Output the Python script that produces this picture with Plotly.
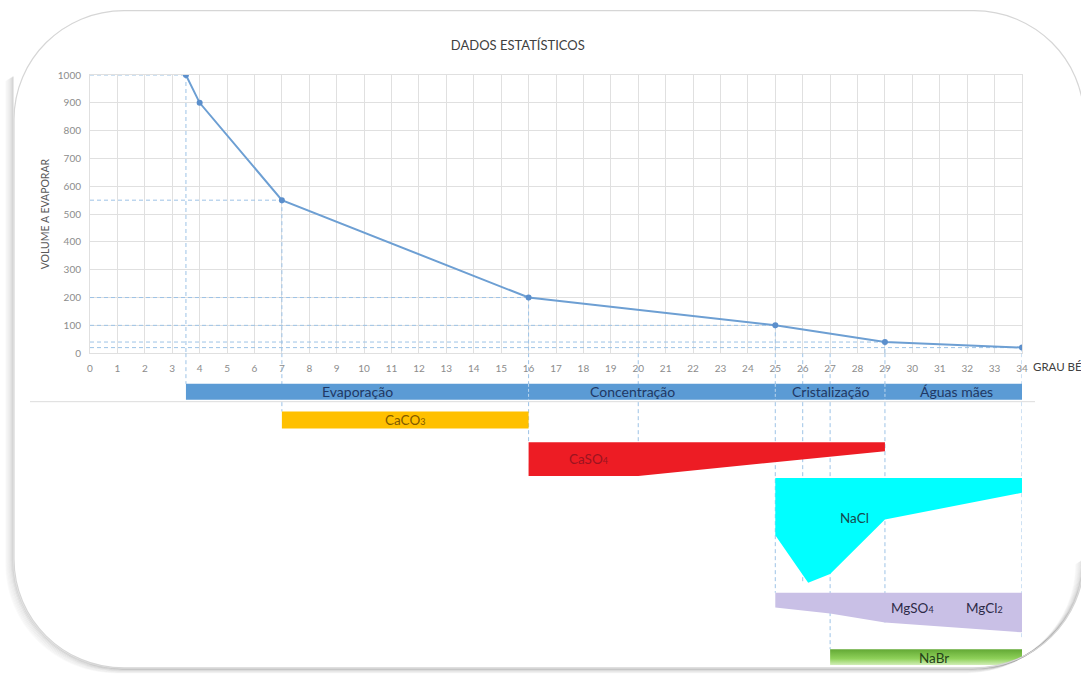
import plotly.graph_objects as go

# ---------------- data ----------------
grau = [3.5, 4, 7, 16, 25, 29, 34]
volume = [1000, 900, 550, 200, 100, 40, 20]

# horizontal guide lines: (x of point, y value)
guias_h_x = [3.5, 7, 16, 25, 29, 34]
guias_h_y = [1000, 550, 200, 100, 40, 20]

# vertical guide lines: x, start value on main axis, end depth in lower panel
guias_v_x = [3.5, 7, 16, 20, 25, 26, 27, 29, 34]
guias_v_top = [1000, 550, 200, 0, 100, 0, 0, 40, 20]
guias_v_fim = [31, 59, 90, 124, 242, 232, 299, 272, 290]

# process phases
fases = ["Evaporação", "Concentração", "Cristalização", "Águas mães"]
fases_lim = [3.5, 16, 25, 29, 34]
fases_lbl_x = [9.75, 19.8, 27.0, 31.6]
faixa_fases = [31, 47]  # depth of the band in the lower panel

# precipitated salts (lower panel, depth units)
caco3_x = [7, 16, 16, 7]
caco3_d = [59, 59, 76, 76]
caso4_x = [16, 29, 29, 20, 16]
caso4_d = [90, 90, 99, 124, 124]
nacl_x = [25, 34, 34, 29, 27, 26.2, 25]
nacl_d = [126, 126, 141, 168, 223, 232, 184]
mg_x = [25, 34, 34, 29, 27, 25]
mg_d = [242, 242, 282, 272, 263, 257]
nabr_x = [27, 34, 34, 27]
nabr_d = [299, 299, 315, 315]

SUB = "<span style='font-size:9px'>{}</span>"
sais_lbl = ["CaCO" + SUB.format("3"), "CaSO" + SUB.format("4"), "NaCl",
            "MgSO" + SUB.format("4"), "MgCl" + SUB.format("2"), "NaBr"]
sais_lbl_x = [11.5, 18.17, 27.9, 30.0, 32.65, 30.8]
sais_lbl_d = [67.5, 107, 166, 257, 257, 308]
sais_lbl_cor = ["#7f5a00", "#9b1420", "#17494d", "#2e2b48", "#2e2b48", "#24421a"]

# ---------------- geometry helpers ----------------
W, H = 1081, 675
ML, MR, MT, MB = 90, 59, 75, 4
PW, PH = W - ML - MR, H - MT - MB


def px2x(p):
    return (p - ML) / PW


def py2y(p):
    return (H - MB - p) / PH


Y_SPLIT = py2y(356)
FONT = "Lato, 'Open Sans', sans-serif"
GUIDE = dict(color="#9dc3e6", width=1, dash="4px,3px")

fig = go.Figure()

# main line
fig.add_trace(go.Scatter(
    x=grau, y=volume, mode="lines+markers",
    line=dict(color="#6d9fd3", width=2),
    marker=dict(color="#5b8fcc", size=6),
    xaxis="x", yaxis="y", showlegend=False, hoverinfo="x+y"))

# phase band
fig.add_trace(go.Scatter(
    x=[fases_lim[0], fases_lim[-1], fases_lim[-1], fases_lim[0]],
    y=[faixa_fases[0], faixa_fases[0], faixa_fases[1], faixa_fases[1]],
    fill="toself", fillcolor="#5b9bd5", line=dict(width=0), mode="lines",
    xaxis="x2", yaxis="y2", showlegend=False, hoverinfo="skip"))

for xs, ds, cor in [(caco3_x, caco3_d, "#ffc000"),
                    (caso4_x, caso4_d, "#ed1c24"),
                    (nacl_x, nacl_d, "#00ffff"),
                    (mg_x, mg_d, "#c9c0e6")]:
    fig.add_trace(go.Scatter(
        x=xs + [xs[0]], y=ds + [ds[0]], fill="toself", fillcolor=cor,
        line=dict(width=0), mode="lines", xaxis="x2", yaxis="y2",
        showlegend=False, hoverinfo="skip"))

fig.add_trace(go.Scatter(
    x=nabr_x + [nabr_x[0]], y=nabr_d + [nabr_d[0]], fill="toself",
    fillgradient=dict(type="vertical",
                      colorscale=[[0, "#d2eeb8"], [0.4, "#8fd15a"], [1, "#62a834"]]),
    line=dict(width=0), mode="lines", xaxis="x2", yaxis="y2",
    showlegend=False, hoverinfo="skip"))

shapes = []
# horizontal guides
for gx, gy in zip(guias_h_x, guias_h_y):
    shapes.append(dict(type="line", xref="x", yref="y", x0=0, x1=gx, y0=gy, y1=gy,
                       line=GUIDE, layer="between"))
# vertical guides
for gx, gt, gf in zip(guias_v_x, guias_v_top, guias_v_fim):
    if gt > 0:
        shapes.append(dict(type="line", xref="x", yref="y", x0=gx, x1=gx, y0=gt, y1=0,
                           line=GUIDE, layer="between"))
    shapes.append(dict(type="line", xref="x2", yref="y2", x0=gx, x1=gx, y0=0, y1=gf,
                       line=GUIDE, layer="below"))
# phase separators inside band
for lim in fases_lim[1:-1]:
    shapes.append(dict(type="line", xref="x2", yref="y2", x0=lim, x1=lim,
                       y0=faixa_fases[0], y1=faixa_fases[1],
                       line=dict(color="#bcd6ee", width=1, dash="3px,2px"), layer="above"))
# thin gray line under the band
shapes.append(dict(type="line", xref="paper", yref="paper", x0=px2x(30), x1=px2x(1035),
                   y0=py2y(405), y1=py2y(405), line=dict(color="#dcdcdc", width=1), layer="below"))

# ---------- rounded frame ----------
L, T, R_, B, RAD = 14, 10, 1084, 674, 110
K = 0.5523 * RAD


def P(x, y):
    return f"{px2x(x):.5f},{py2y(y):.5f}"


inner = (f"M{P(L+RAD, T)} L{P(R_-RAD, T)} C{P(R_-RAD+K, T)} {P(R_, T+RAD-K)} {P(R_, T+RAD)} "
         f"L{P(R_, B-RAD)} C{P(R_, B-RAD+K)} {P(R_-RAD+K, B)} {P(R_-RAD, B)} "
         f"L{P(L+RAD, B)} C{P(L+RAD-K, B)} {P(L, B-RAD+K)} {P(L, B-RAD)} "
         f"L{P(L, T+RAD)} C{P(L, T+RAD-K)} {P(L+RAD-K, T)} {P(L+RAD, T)} Z")
outer = f"M{P(-20, -20)} L{P(-20, 700)} L{P(1100, 700)} L{P(1100, -20)} Z "
shapes.append(dict(type="path", xref="paper", yref="paper", path=outer + inner,
                   fillcolor="white", line=dict(width=0), layer="above"))


def shadow(dx, dy):
    return (f"M{P(L+dx, T+RAD*0.6+dy)} L{P(L+dx, B-RAD+dy)} "
            f"C{P(L+dx, B-RAD+K+dy)} {P(L+RAD-K+dx, B+dy)} {P(L+RAD+dx, B+dy)} "
            f"L{P(R_-RAD+dx, B+dy)} C{P(R_-RAD+K+dx, B+dy)} {P(R_+dx, B-RAD+K+dy)} {P(R_+dx, B-RAD+dy)}")


for d, a in [(8, 0.02), (7, 0.03), (6, 0.04), (5, 0.05), (4, 0.06), (3, 0.08), (2, 0.10), (1, 0.12)]:
    shapes.append(dict(type="path", xref="paper", yref="paper", path=shadow(-d, d * 0.6),
                       line=dict(color=f"rgba(0,0,0,{a})", width=1.5), layer="above"))
shapes.append(dict(type="path", xref="paper", yref="paper", path=inner,
                   line=dict(color="#d6d6d6", width=1.2), layer="above"))

annotations = []
for nome, lx in zip(fases, fases_lbl_x):
    annotations.append(dict(x=lx, y=sum(faixa_fases) / 2, xref="x2", yref="y2", text=nome,
                            showarrow=False, font=dict(family=FONT, size=14, color="#1f3864")))
for t, lx, ld, c in zip(sais_lbl, sais_lbl_x, sais_lbl_d, sais_lbl_cor):
    annotations.append(dict(x=lx, y=ld, xref="x2", yref="y2", text=t, showarrow=False,
                            font=dict(family=FONT, size=13.5, color=c)))
annotations.append(dict(x=px2x(1031), y=py2y(369), xref="paper", yref="paper", text="GRAU BÉ",
                        xanchor="left", showarrow=False,
                        font=dict(family=FONT, size=11.5, color="#404040")))

axis_style = dict(showgrid=True, gridcolor="#e0e0e0", gridwidth=1, showline=True,
                  linecolor="#e0e0e0", mirror=True, ticks="", zeroline=False,
                  tickfont=dict(family=FONT, size=10, color="#8c8c8c"))

fig.update_layout(
    width=W, height=H, margin=dict(l=ML, r=MR, t=MT, b=MB),
    paper_bgcolor="white", plot_bgcolor="white",
    title=dict(text="DADOS ESTATÍSTICOS", x=0.479, xanchor="center", y=1 - 45 / H,
               yanchor="middle", font=dict(family=FONT, size=13, color="#404040")),
    xaxis=dict(domain=[0, 1], range=[0, 34], dtick=1, tick0=0, anchor="y",
               ticklabelstandoff=6, **axis_style),
    yaxis=dict(domain=[Y_SPLIT, 1], range=[0, 1000], dtick=100, anchor="x",
               ticklabelstandoff=6,
               title=dict(text="VOLUME A EVAPORAR", standoff=6,
                          font=dict(family=FONT, size=10.5, color="#595959")),
               **axis_style),
    xaxis2=dict(domain=[0, 1], range=[0, 34], anchor="y2", visible=False),
    yaxis2=dict(domain=[0, Y_SPLIT], range=[315, 0], anchor="x2", visible=False),
    shapes=shapes, annotations=annotations, showlegend=False,
)

fig.write_html("out.html")
